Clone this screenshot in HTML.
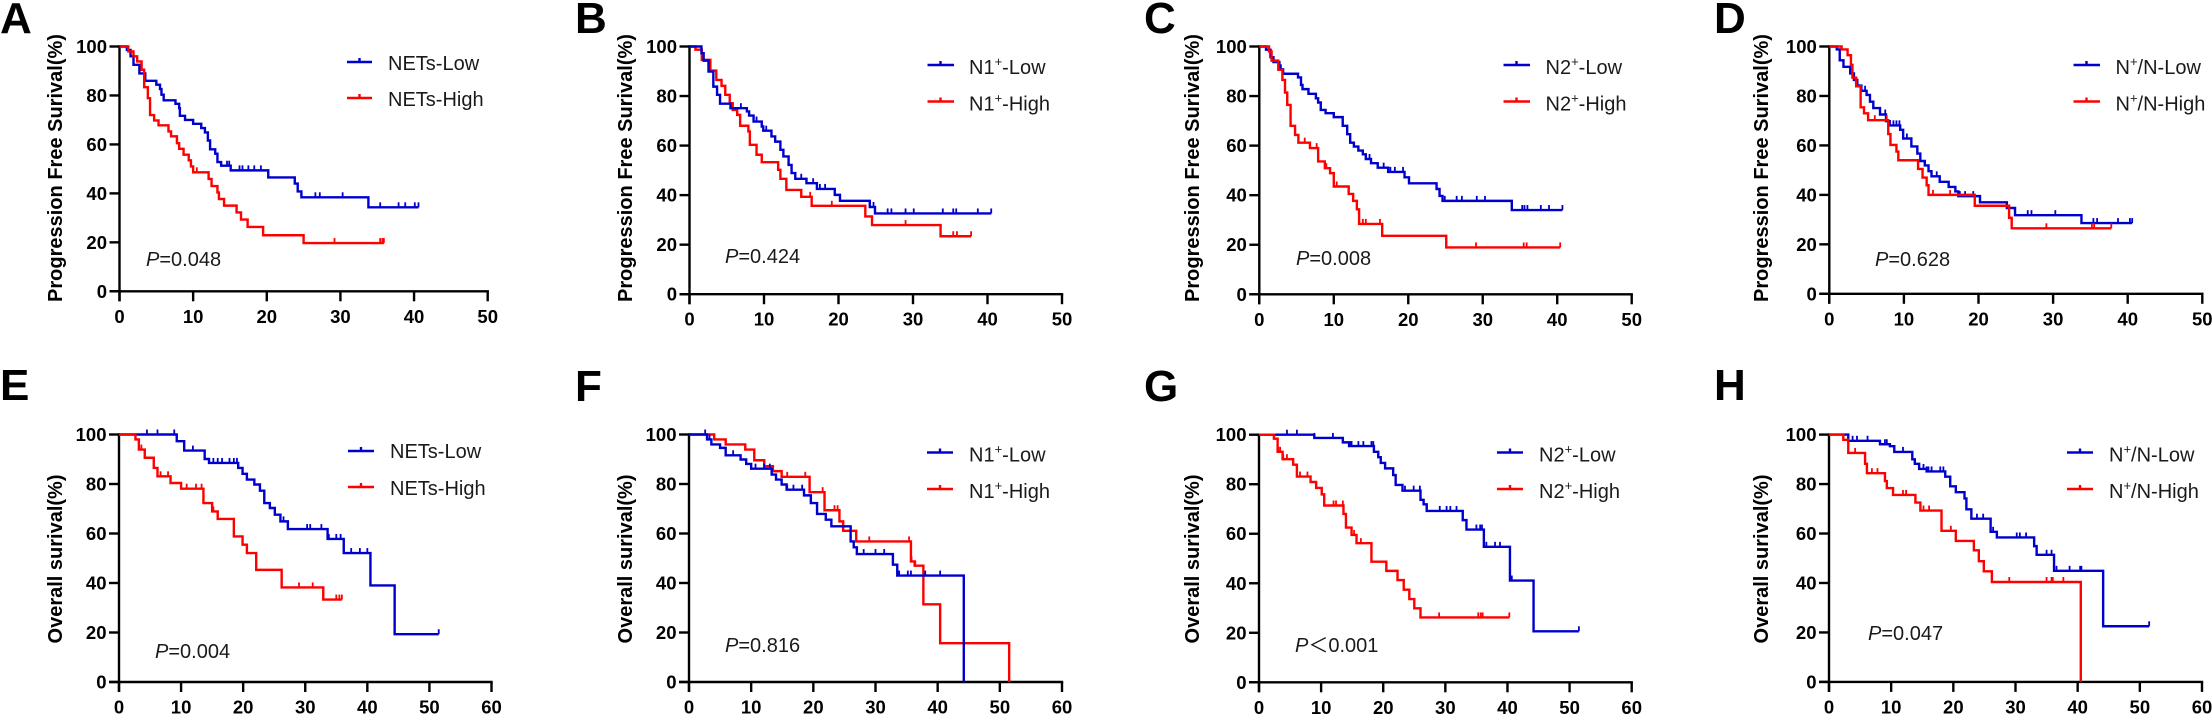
<!DOCTYPE html>
<html lang="en">
<head>
<meta charset="utf-8">
<title>Kaplan-Meier survival curves</title>
<style>
html,body{margin:0;padding:0;background:#fff;}
body{width:2212px;height:714px;overflow:hidden;}
svg{display:block;font-family:"Liberation Sans",Arial,sans-serif;}
.letter{font-size:44px;font-weight:700;fill:#000;}
.ytitle{font-size:20px;font-weight:700;fill:#000;text-anchor:middle;}
.pval{font-size:20px;fill:#1a1a1a;}
.pval tspan.i{font-style:italic;}
.pval tspan.lt{font-family:"Liberation Sans","Noto Sans CJK SC",sans-serif;}
.lg{font-size:20px;fill:#1a1a1a;}
.sup{font-size:13px;}
.blue{stroke:#0000cd;stroke-width:2.4;fill:none;}
.red{stroke:#ff0000;stroke-width:2.4;fill:none;}
</style>
</head>
<body>
<svg id="figure" width="2212" height="714" viewBox="0 0 2212 714" xmlns="http://www.w3.org/2000/svg">
<rect width="2212" height="714" fill="#fff"/>

<text class="letter" x="0" y="33">A</text>
<text class="letter" x="575" y="33">B</text>
<text class="letter" x="1144" y="33">C</text>
<text class="letter" x="1714" y="33">D</text>
<text class="letter" x="0" y="400">E</text>
<text class="letter" x="575" y="401">F</text>
<text class="letter" x="1144" y="401">G</text>
<text class="letter" x="1714" y="400">H</text>

<text class="ytitle" transform="translate(62,168) rotate(-90)">Progression Free Surival(%)</text>
<text class="ytitle" transform="translate(632,168) rotate(-90)">Progression Free Surival(%)</text>
<text class="ytitle" transform="translate(1199,168) rotate(-90)">Progression Free Surival(%)</text>
<text class="ytitle" transform="translate(1768,168) rotate(-90)">Progression Free Surival(%)</text>
<text class="ytitle" transform="translate(62,559) rotate(-90)">Overall surival(%)</text>
<text class="ytitle" transform="translate(632,559) rotate(-90)">Overall surival(%)</text>
<text class="ytitle" transform="translate(1199,559) rotate(-90)">Overall surival(%)</text>
<text class="ytitle" transform="translate(1768,559) rotate(-90)">Overall surival(%)</text>

<text class="pval" x="146" y="266"><tspan class="i">P</tspan>=0.048</text>
<text class="pval" x="725" y="263"><tspan class="i">P</tspan>=0.424</text>
<text class="pval" x="1296" y="265"><tspan class="i">P</tspan>=0.008</text>
<text class="pval" x="1875" y="266"><tspan class="i">P</tspan>=0.628</text>
<text class="pval" x="155" y="658"><tspan class="i">P</tspan>=0.004</text>
<text class="pval" x="725" y="652"><tspan class="i">P</tspan>=0.816</text>
<text class="pval" x="1295" y="652"><tspan class="i">P</tspan><tspan class="lt">＜</tspan>0.001</text>
<text class="pval" x="1868" y="640"><tspan class="i">P</tspan>=0.047</text>

<g>
<path class="blue" d="M347 62H372M359.5 62V58"/>
<text class="lg" x="388" y="70">NETs-Low</text>
<path class="red" d="M347 98H372M359.5 98V94"/>
<text class="lg" x="388" y="106">NETs-High</text>
</g>
<g>
<path class="blue" d="M927.5 65H954M940.5 65V61"/>
<text class="lg" x="969" y="74">N1<tspan class="sup" dy="-8">+</tspan><tspan dy="8">-Low</tspan></text>
<path class="red" d="M927.5 101.5H954M940.5 101.5V97.5"/>
<text class="lg" x="969" y="110.5">N1<tspan class="sup" dy="-8">+</tspan><tspan dy="8">-High</tspan></text>
</g>
<g>
<path class="blue" d="M1503.5 65H1530M1516.5 65V61"/>
<text class="lg" x="1545.5" y="74">N2<tspan class="sup" dy="-8">+</tspan><tspan dy="8">-Low</tspan></text>
<path class="red" d="M1503.5 101.5H1530M1516.5 101.5V97.5"/>
<text class="lg" x="1545.5" y="110.5">N2<tspan class="sup" dy="-8">+</tspan><tspan dy="8">-High</tspan></text>
</g>
<g>
<path class="blue" d="M2073.5 65H2100M2086.5 65V61"/>
<text class="lg" x="2115.5" y="74">N<tspan class="sup" dy="-8">+</tspan><tspan dy="8">/N-Low</tspan></text>
<path class="red" d="M2073.5 101.5H2100M2086.5 101.5V97.5"/>
<text class="lg" x="2115.5" y="110.5">N<tspan class="sup" dy="-8">+</tspan><tspan dy="8">/N-High</tspan></text>
</g>
<g>
<path class="blue" d="M348 451H374M361 451V447"/>
<text class="lg" x="390" y="458">NETs-Low</text>
<path class="red" d="M348 487H374M361 487V483"/>
<text class="lg" x="390" y="495">NETs-High</text>
</g>
<g>
<path class="blue" d="M927 452.5H953M940 452.5V448.5"/>
<text class="lg" x="969" y="461.5">N1<tspan class="sup" dy="-8">+</tspan><tspan dy="8">-Low</tspan></text>
<path class="red" d="M927 489H953M940 489V485"/>
<text class="lg" x="969" y="498">N1<tspan class="sup" dy="-8">+</tspan><tspan dy="8">-High</tspan></text>
</g>
<g>
<path class="blue" d="M1497 452.5H1523M1510 452.5V448.5"/>
<text class="lg" x="1539" y="461.5">N2<tspan class="sup" dy="-8">+</tspan><tspan dy="8">-Low</tspan></text>
<path class="red" d="M1497 489H1523M1510 489V485"/>
<text class="lg" x="1539" y="498">N2<tspan class="sup" dy="-8">+</tspan><tspan dy="8">-High</tspan></text>
</g>
<g>
<path class="blue" d="M2067 452.5H2093M2080 452.5V448.5"/>
<text class="lg" x="2109" y="461.5">N<tspan class="sup" dy="-8">+</tspan><tspan dy="8">/N-Low</tspan></text>
<path class="red" d="M2067 489H2093M2080 489V485"/>
<text class="lg" x="2109" y="498">N<tspan class="sup" dy="-8">+</tspan><tspan dy="8">/N-High</tspan></text>
</g>
</svg>

<script>
const yTickLabels = [0, 20, 40, 60, 80, 100];
const xTickLabelsPfs = [0, 10, 20, 30, 40, 50];
const xTickLabelsOs = [0, 10, 20, 30, 40, 50, 60];

const aLowTimes = [1.0,1.5,1.9,2.7,3.5,5,5.5,5.7,6,7.6,8.1,8.2,8.9,10,11.1,11.6,12,12.3,13,13.3,13.8,15.1,20.2,23.8,24.2,24.7,33.8];
const aLowSurvival = [98.6,96,92.5,89,86,84.4,82.6,80.3,78,76.6,74.8,71.7,70,68.4,66.7,64.9,61.6,58,56.2,52.8,51.3,49.4,46.5,44,40.8,38.4,34.3];
const aLowCensored = [14.6,14.9,16.3,16.7,17.5,18.3,19.2,26.6,27.2,30.3,35.4,37.9,38.8,40.1,40.6];
const aHighTimes = [1.2,1.9,2.4,3,3.35,3.85,4.15,4.7,5.3,6.65,7,7.8,8.1,8.7,9.4,9.7,10,12.1,12.5,13.3,13.5,14.2,15.9,16.5,17.4,19.5,25];
const aHighSurvival = [98,96,93.9,90.5,83.4,78.9,72,69.8,67.8,65.3,63.3,60.5,58.2,55.8,53.5,51,48.6,45.9,43,40.4,37.7,35,32.2,29.3,26.3,22.9,19.7];
const aHighCensored = [10.5,29.2,35.4,35.7,35.9];

const bLowTimes = [1.6,1.9,2.55,3.2,3.7,4.1,5.5,7.7,8,8.6,9.7,9.9,11,11.5,12.2,12.6,13.3,13.7,14.2,15.7,17.1,19.5,20.2,24.2,24.9];
const bLowSurvival = [97.3,94.3,89.9,83.8,80.5,76.9,75.1,73.8,72.1,69.7,67.7,66,63.7,61.6,58.3,55.6,52.2,48.9,46.6,44.8,42.5,40.1,37.7,35.2,32.6];
const bLowCensored = [6.9,9,10.3,15,16.6,17.5,18.2,24.7,26.6,27.1,29,30.1,34,35.4,35.8,38.7,40.5];
const bHighTimes = [0.8,1.65,2.8,3.6,4.3,4.8,5.4,5.8,6.4,6.8,7.9,8.1,9,9.7,11.9,12.2,13,15,16.4,23.6,24.5,33.7];
const bHighSurvival = [98.7,94.6,90.3,86.5,84.1,80.5,77.1,74.4,72.4,68,65.7,60.3,56.3,53.3,50.2,46.6,42.1,39.3,35.7,31.4,27.9,23.4];
const bHighCensored = [13,16.2,19.1,29,35.4,35.9,37.8];

const cLowTimes = [0.9,1.5,1.9,2.7,3.2,5.2,5.6,5.8,6.6,7.6,7.9,8.25,8.9,10,11.2,11.8,12.2,12.7,13.3,13.9,14.3,15,15.9,17.3,19.5,20.1,23.8,24.2,24.6,33.9];
const cLowSurvival = [98.7,95.7,93.7,90.8,89,87.5,84.5,82.8,80.9,79.1,77.4,74.4,73.1,71.5,68,64.6,61.2,59.6,58,56.5,54.6,52.9,51.1,49.4,47.2,44.8,42.5,39.7,37.7,34];
const cLowCensored = [2.9,14.8,16.7,17.6,18.2,19.3,24.9,26.5,27.2,29.2,30.3,35.3,35.6,36,37.8,38.9,40.7];
const cHighTimes = [1.3,1.65,2.55,3.1,3.45,3.75,4.2,4.8,5.25,6.8,7.9,8.8,9.5,10,12,12.6,13.1,13.4,16.5,25.1];
const cHighSurvival = [98,94.3,90.6,86.5,81.4,76.4,68,64.3,61.2,59,53.6,50.9,48.9,43.5,40.5,37.7,34.3,28.4,23.6,18.9];
const cHighCensored = [6.1,7.7,9,10.4,13.9,14.3,16.2,29.1,35.5,35.9,40.4];

const dLowTimes = [1,1.4,1.9,2.8,3.3,3.75,4.3,5,5.45,5.9,6.8,7.6,8.1,9.5,9.9,11,11.8,12.2,12.8,13.3,13.7,14.8,16,16.9,17.3,20.2,23.8,24.9,33.8];
const dLowSurvival = [98.8,94.4,91.8,89.1,86.5,84.2,82.1,80.4,77.7,75.1,72.5,69.8,68.1,66.3,62.8,59.6,56.7,53.7,51.9,49.6,47.5,45.3,43.2,41.4,39.5,37,34.7,31.8,28.6];
const dLowCensored = [2.8,3.8,4.8,7.5,8.6,9,9.4,10.4,14.4,14.8,17.5,18.2,19.3,24.9,26.6,27.1,30.3,35.4,35.9,38.7,40.3,40.6];
const dHighTimes = [1.65,2.45,2.9,3.1,3.6,4.2,4.65,5.2,7.9,8.2,9,9.25,11.9,12.5,13.05,13.3,19.5,24.1,24.45];
const dHighSurvival = [98.8,96.5,92.6,87.4,83.9,75.4,73,70.2,64.6,60.2,57.5,54,50.5,47,43.9,40,35.6,30.7,26.5];
const dHighCensored = [6.1,7.7,13.9,16.2,29.1,35.2,35.5,37.8];

const eLowTimes = [9.05,9.3,10.5,13.8,14.5,19.2,19.9,20.6,21.8,22.7,23.4,24.3,25.1,26,27.2,33.6,36.2,40.5,44.4];
const eLowSurvival = [100,97.3,93.5,90.1,88.5,86.5,84.1,81.8,79.8,77.3,72.3,70.3,67.6,64.9,61.8,57.8,52.1,39,19.3];
const eLowCensored = [4.5,6.2,8.9,11.9,15.2,15.9,16.6,17.8,18.5,19,24.3,26,26.5,30.3,30.8,32.6,33.8,35,35.7,37.4,38.8,40,51.5];
const eHighTimes = [2.65,3.2,4.15,5.6,6.2,8.3,10,13.6,15,15.9,18.5,19.9,20.6,22.1,26.2,32.9];
const eHighSurvival = [98,93.9,90.6,86.5,83.1,80.4,78.1,72.3,68.9,65.9,58.8,55.5,52.1,45.3,38.2,33.3];
const eHighCensored = [3.2,3.6,6.7,7.9,8.3,10.9,12.4,13.3,15.2,29,31.2,35,35.5,35.9];

const fLowTimes = [2.9,3.6,5,5.9,8.3,9.2,10,13.3,14,14.9,15.7,18.5,19.6,20.6,22,22.9,26,26.5,27,32.8,33.5,44.2];
const fLowSurvival = [98,96,94.6,91.6,89.9,88.1,86.2,83.8,81.8,79.8,77.7,75.4,72.3,67.9,65.6,62.9,56.8,54.4,51.7,47.4,43,0];
const fLowCensored = [2.6,3.3,5.9,7.1,8.3,10.7,12.1,13,15.8,16.8,18.2,28.1,30,31.4,33.8,35.2,35.7,38,40.4];
const fHighTimes = [4.05,5.9,9.05,10.5,12.1,13.5,14.9,19.4,21.8,24.2,24.8,26.9,35.7,36.3,37.7,40.4,51.5];
const fHighSurvival = [98,96,93.9,89.6,87.2,85.2,82.9,76.7,69.4,64.9,61.1,56.8,48.7,47,31.4,15.7,0];
const fHighCensored = [5.9,12.1,14.9,15.8,18.7,21.5,23.4,23.9,29,35.4,35.8,36.4];

const gLowTimes = [8.9,13.5,14.5,18.5,19.2,19.6,20.3,21.6,22,23.1,26,26.5,27,32.8,33.4,36.2,40.4,44.2];
const gLowSurvival = [98.7,96.9,95.4,93.1,90.9,88.6,86.4,83.7,79.7,77.4,73.7,71.9,69.2,65.5,61.7,54.7,41.1,20.6];
const gLowCensored = [4.5,6.1,8.9,11.9,14.7,14.9,16,16.8,18.1,18.4,23.5,24.9,25.9,29.1,30.2,30.8,31.8,35,35.6,35.9,36.6,38,38.8,40.7,51.5];
const gHighTimes = [2.4,3,3.8,5.5,6.1,8.3,9.2,10.1,10.5,13.6,14,14.9,15.7,18.1,20.5,22.3,23.3,24.2,25,26];
const gHighSurvival = [98.4,93.1,90.1,87.9,83.1,80.9,78.5,75.9,71.4,68,62.5,59.5,56.2,48.7,45,41.3,37.4,33.6,29.9,26.2];
const gHighCensored = [3.1,3.4,3.9,4.5,6.6,7.8,12,12.4,13.5,15.3,15.7,16.4,29,35.3,35.7,36,40.3];

const hLowTimes = [3.1,8.2,9.8,10.5,13.4,13.8,14.5,15.7,18.7,19.5,20.4,21.8,22.1,22.9,26,27,33,33.4,36.2,44.1];
const hLowSurvival = [97.5,96.1,95.3,93,90,88.2,86.1,85.1,83,79.1,76.7,74.2,69.8,66,60.7,58.4,54.9,51.4,44.9,22.5];
const hLowCensored = [3.8,4.5,6.2,9,9.3,11.9,14.5,15.2,15.7,16,16.5,17.9,18.4,23.8,24.8,26.4,30.2,30.7,31.7,35,35.8,36.6,38.7,40.4,40.6,51.5];
const hHighTimes = [2.3,3.1,5.8,6.1,9,9.3,10.3,13.9,14.7,18.1,20.4,23.3,24.1,24.9,26.2,40.5];
const hHighSurvival = [97.9,92.6,88.2,84.4,81.2,78.4,75.6,72.5,69.3,61.1,57,53.2,48.8,44.7,40.4,0];
const hHighCensored = [4.2,6.9,7.8,11.9,12.4,15.2,16.1,19.6,29,35,35.8,36,37.7];

const SVGNS = 'http://www.w3.org/2000/svg';
const figure = document.getElementById('figure');

function make(tag, attrs, parent) {
  const el = document.createElementNS(SVGNS, tag);
  for (const k in attrs) el.setAttribute(k, attrs[k]);
  parent.appendChild(el);
  return el;
}

function survivalAt(times, survival, t) {
  let s = 100;
  for (let i = 0; i < times.length; i++) {
    if (times[i] <= t) s = survival[i];
  }
  return s;
}

function drawSeries(group, id, label, cls, times, survival, censored, xScale, yScale) {
  const lastCensor = censored.length ? censored[censored.length - 1] : 0;
  let d = 'M' + xScale(0) + ' ' + yScale(100);
  for (let i = 0; i < times.length; i++) {
    d += 'H' + xScale(times[i]).toFixed(2) + 'V' + yScale(survival[i]).toFixed(2);
  }
  if (lastCensor > times[times.length - 1]) d += 'H' + xScale(lastCensor).toFixed(2);
  const curve = make('path', {d: d, class: cls, 'stroke-linejoin': 'miter'}, group);
  
  
  censored.forEach(function (t) {
    const px = xScale(t);
    const py = yScale(survivalAt(times, survival, t));
    const mark = make('line', {x1: px, x2: px, y1: py, y2: py - 5, class: cls, style: 'stroke-width:1.8'}, group);
    
    
  });
}

function drawPanel(p) {
  const group = make('g', {}, figure);
  
  
  const maxX = p.xTicks[p.xTicks.length - 1];
  const xScale = function (v) { return p.left + (p.right - p.left) * v / maxX; };
  const yScale = function (v) { return p.bottom - (p.bottom - p.top) * v / 100; };

  const yAxis = make('line', {x1: p.left, x2: p.left, y1: p.top - 1.2, y2: p.bottom + 10, stroke: '#000', 'stroke-width': 2.4}, group);
  
  
  const xAxis = make('line', {x1: p.left - 10, x2: p.right + 1.2, y1: p.bottom, y2: p.bottom, stroke: '#000', 'stroke-width': 2.4}, group);
  
  

  yTickLabels.forEach(function (v) {
    const tick = make('line', {x1: p.left - 10, x2: p.left, y1: yScale(v), y2: yScale(v), stroke: '#000', 'stroke-width': 2.4}, group);
    
    
    const text = make('text', {x: p.left - 12.5, y: yScale(v) + 6.5, 'text-anchor': 'end', 'font-size': 18.5, 'font-weight': 700, fill: '#000'}, group);
    
    
    text.textContent = v;
  });
  p.xTicks.forEach(function (v) {
    const tick = make('line', {x1: xScale(v), x2: xScale(v), y1: p.bottom, y2: p.bottom + 10, stroke: '#000', 'stroke-width': 2.4}, group);
    
    
    const text = make('text', {x: xScale(v), y: p.bottom + 31.5, 'text-anchor': 'middle', 'font-size': 18.5, 'font-weight': 700, fill: '#000'}, group);
    
    
    text.textContent = v;
  });

  if (p.redFirst) {
    drawSeries(group, p.id, 'high', 'red', p.highTimes, p.highSurvival, p.highCensored, xScale, yScale);
    drawSeries(group, p.id, 'low', 'blue', p.lowTimes, p.lowSurvival, p.lowCensored, xScale, yScale);
  } else {
    drawSeries(group, p.id, 'low', 'blue', p.lowTimes, p.lowSurvival, p.lowCensored, xScale, yScale);
    drawSeries(group, p.id, 'high', 'red', p.highTimes, p.highSurvival, p.highCensored, xScale, yScale);
  }
}

drawPanel({id: 'a', left: 119.5, right: 487.7, top: 46.5, bottom: 291.3, xTicks: xTickLabelsPfs, lowTimes: aLowTimes, lowSurvival: aLowSurvival, lowCensored: aLowCensored, highTimes: aHighTimes, highSurvival: aHighSurvival, highCensored: aHighCensored});
drawPanel({id: 'b', left: 689.5, right: 1062, top: 46.5, bottom: 294.2, xTicks: xTickLabelsPfs, lowTimes: bLowTimes, lowSurvival: bLowSurvival, lowCensored: bLowCensored, highTimes: bHighTimes, highSurvival: bHighSurvival, highCensored: bHighCensored, redFirst: true});
drawPanel({id: 'c', left: 1259.3, right: 1631.7, top: 46.5, bottom: 294.3, xTicks: xTickLabelsPfs, lowTimes: cLowTimes, lowSurvival: cLowSurvival, lowCensored: cLowCensored, highTimes: cHighTimes, highSurvival: cHighSurvival, highCensored: cHighCensored});
drawPanel({id: 'd', left: 1829.3, right: 2202.3, top: 46.5, bottom: 293.8, xTicks: xTickLabelsPfs, lowTimes: dLowTimes, lowSurvival: dLowSurvival, lowCensored: dLowCensored, highTimes: dHighTimes, highSurvival: dHighSurvival, highCensored: dHighCensored});
drawPanel({id: 'e', left: 119, right: 491.5, top: 434.5, bottom: 682, xTicks: xTickLabelsOs, lowTimes: eLowTimes, lowSurvival: eLowSurvival, lowCensored: eLowCensored, highTimes: eHighTimes, highSurvival: eHighSurvival, highCensored: eHighCensored});
drawPanel({id: 'f', left: 689, right: 1062, top: 434.5, bottom: 682, xTicks: xTickLabelsOs, lowTimes: fLowTimes, lowSurvival: fLowSurvival, lowCensored: fLowCensored, highTimes: fHighTimes, highSurvival: fHighSurvival, highCensored: fHighCensored, redFirst: true});
drawPanel({id: 'g', left: 1259, right: 1631.7, top: 434.7, bottom: 682.3, xTicks: xTickLabelsOs, lowTimes: gLowTimes, lowSurvival: gLowSurvival, lowCensored: gLowCensored, highTimes: gHighTimes, highSurvival: gHighSurvival, highCensored: gHighCensored});
drawPanel({id: 'h', left: 1829, right: 2202, top: 434.6, bottom: 681.9, xTicks: xTickLabelsOs, lowTimes: hLowTimes, lowSurvival: hLowSurvival, lowCensored: hLowCensored, highTimes: hHighTimes, highSurvival: hHighSurvival, highCensored: hHighCensored});
</script>
</body>
</html>
